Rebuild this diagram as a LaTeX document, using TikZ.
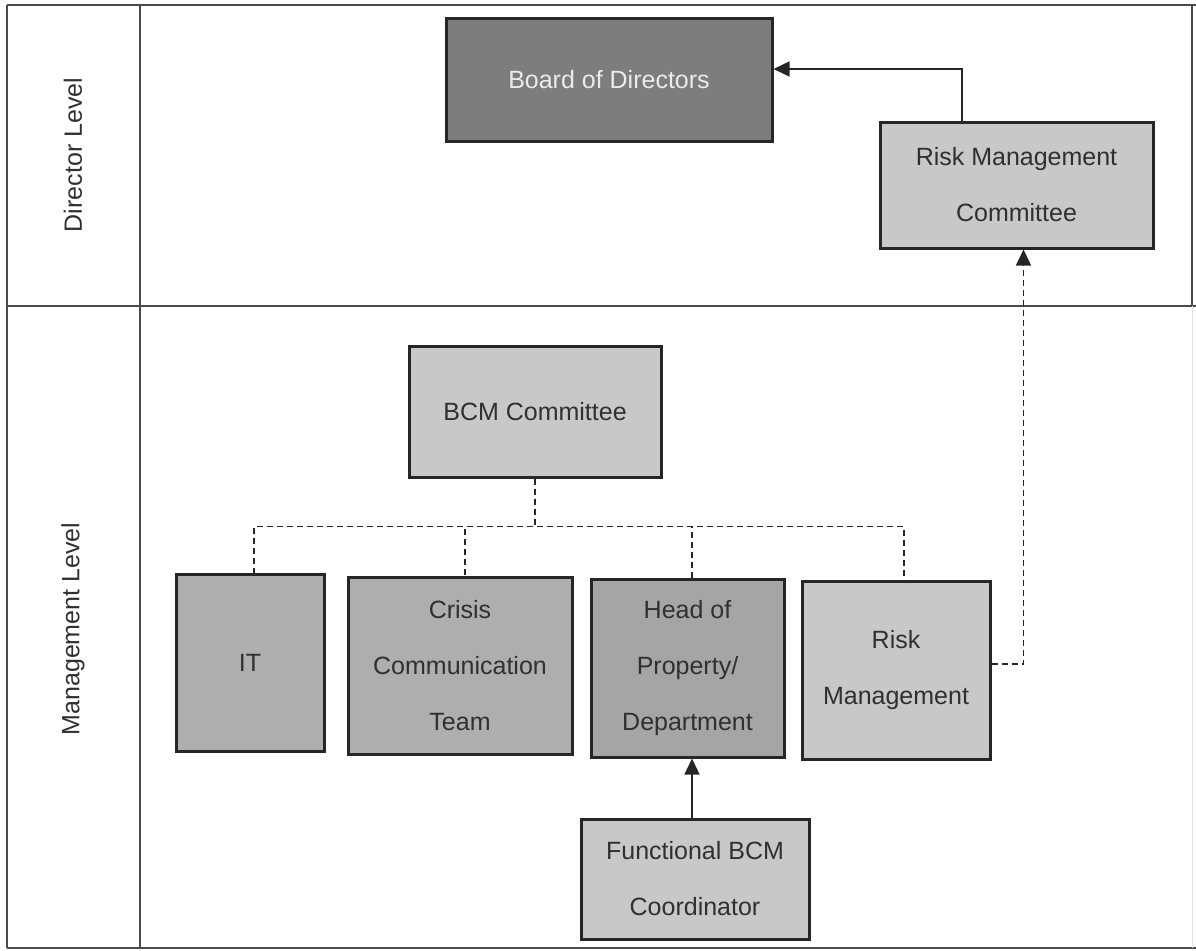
\documentclass[tikz,border=0pt]{standalone}
\usepackage{fontspec}
\setmainfont{Liberation Sans}
\usetikzlibrary{arrows.meta,positioning,calc}
\definecolor{boxline}{HTML}{262626}
\definecolor{darkfill}{HTML}{7D7D7D}
\definecolor{lightfill}{HTML}{C8C8C8}
\definecolor{midfill}{HTML}{AEAEAE}
\definecolor{headfill}{HTML}{A5A5A5}
\definecolor{txt}{HTML}{303030}
\definecolor{frameline}{HTML}{4A4A4A}
\tikzset{
  orgbox/.style={draw=boxline, line width=3pt, rectangle, inner sep=0pt, align=center,
    text=txt, font=\fontsize{25pt}{56pt}\selectfont},
  lightbox/.style={orgbox, fill=lightfill},
  midbox/.style={orgbox, fill=midfill},
  headbox/.style={orgbox, fill=headfill},
  darkbox/.style={orgbox, fill=darkfill, text=white!92!black},
  framestyle/.style={draw=frameline, line width=1.6pt},
  levellabel/.style={rotate=90, text=txt, font=\fontsize{25pt}{30pt}\selectfont},
  solidarr/.style={draw=boxline, line width=1.4pt, -{Triangle[length=16pt,width=15pt]}},
  dashline/.style={draw=boxline, line width=1.4pt, dash pattern=on 6pt off 4pt},
  dasharr/.style={dashline, -{Triangle[length=16pt,width=15pt]}}
}
\begin{document}
\begin{tikzpicture}[x=1pt,y=-1pt]
\useasboundingbox (0,0) rectangle (1196,950);
% frame
\draw[framestyle] (7,5) -- (1196,5);
\draw[framestyle] (7,306) -- (1196,306);
\draw[framestyle] (7,948) -- (1196,948);
\draw[framestyle] (7,5) -- (7,948);
\draw[framestyle] (140,5) -- (140,948);
\draw[framestyle] (1192,5) -- (1192,306);
\draw[draw=black!12, line width=1pt] (1192,306) -- (1192,948);
% level labels
\node[levellabel] (dirlab) at (73,155) {Director Level};
\node[levellabel] (mgmtlab) at (73,629) {Management Level};
% boxes
\node[darkbox, minimum width=326pt, minimum height=122pt] (board) at (609,80) {Board of Directors};
\node[lightbox, minimum width=273pt, minimum height=126pt] (rmc) at (1016.5,185) {Risk Management\\Committee};
\node[lightbox, minimum width=252pt, minimum height=131pt] (bcm) at (535,411.5) {BCM Committee};
\node[midbox, minimum width=148pt, minimum height=177pt] (it) at (250,662.5) {IT};
\node[midbox, minimum width=224pt, minimum height=177pt] (crisis) at (460,665.5) {Crisis\\Communication\\Team};
\node[headbox, minimum width=193pt, minimum height=178pt] (head) at (687.5,668) {Head of\\Property/\\Department};
\node[lightbox, minimum width=188pt, minimum height=178pt] (risk) at (896,670) {Risk\\Management};
\node[lightbox, minimum width=228pt, minimum height=120pt] (func) at (695,879) {Functional BCM\\Coordinator};
% connectors
\draw[solidarr] ([xshift=-54.5pt]rmc.north) |- ([yshift=11pt]board.east);
\draw[dashline] (bcm.south) -- ++(0,48) -| ([xshift=4pt]it.north);
\draw[dashline] (bcm.south) -- ++(0,48) -| ([xshift=5pt]crisis.north);
\draw[dashline] (bcm.south) -- ++(0,48) -| ([xshift=4.5pt]head.north);
\draw[dashline] (bcm.south) -- ++(0,48) -| ([xshift=8pt]risk.north);
\draw[dasharr] ([yshift=6pt]risk.east) -| ([xshift=7pt]rmc.south);
\coordinate (hs) at ([xshift=4.5pt]head.south);
\draw[solidarr] (hs |- func.north) -- (hs);
\end{tikzpicture}
\end{document}
